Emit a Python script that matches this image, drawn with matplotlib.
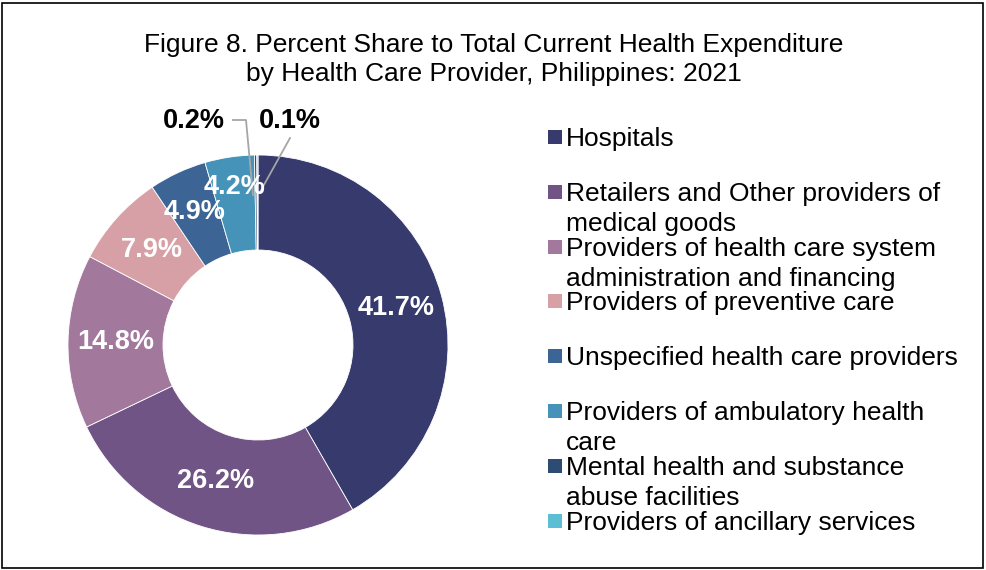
import numpy as np
import matplotlib
matplotlib.use("Agg")
import matplotlib.pyplot as plt
from matplotlib.patches import Rectangle

plt.rcParams['font.family'] = ['Liberation Sans', 'DejaVu Sans']

labels = ["Hospitals",
          "Retailers and Other providers of\nmedical goods",
          "Providers of health care system\nadministration and financing",
          "Providers of preventive care",
          "Unspecified health care providers",
          "Providers of ambulatory health\ncare",
          "Mental health and substance\nabuse facilities",
          "Providers of ancillary services"]
shares = [41.7, 26.2, 14.8, 7.9, 4.9, 4.2, 0.2, 0.1]
colors = ["#363a6c", "#6f5485", "#a2789d", "#d7a0a6",
          "#3c6494", "#4593b8", "#2e4b73", "#5bbed4"]

W, H = 986, 570
fig = plt.figure(figsize=(W / 100, H / 100), dpi=100)

# figure border
fig.patches.append(Rectangle((2 / W, 2 / H), 981 / W, 565 / H, transform=fig.transFigure,
                             fill=False, edgecolor="black", linewidth=1.2))

fig.text(494 / W, 1 - 45 / H, "Figure 8. Percent Share to Total Current Health Expenditure",
         ha="center", va="center", fontsize=19)
fig.text(494 / W, 1 - 74 / H, "by Health Care Provider, Philippines: 2021",
         ha="center", va="center", fontsize=19)

cx, cy, R = 258, 345, 190
ax = fig.add_axes([(cx - R) / W, (H - cy - R) / H, 2 * R / W, 2 * R / H])
wedges, _ = ax.pie(shares, colors=colors, startangle=90, counterclock=False, radius=1,
                   wedgeprops=dict(width=0.5, edgecolor="white", linewidth=0.6))
ax.set_xlim(-1, 1)
ax.set_ylim(-1, 1)
ax.set_aspect("equal")
ax.axis("off")

def px(x, y):
    return ((x - cx) / R, (cy - y) / R)

# label spots moved by hand (like Excel did) for the crowded slices
moved = {4: px(195, 212), 5: px(235, 187)}

for i, (w, v) in enumerate(zip(wedges, shares)):
    if v < 1:
        continue
    ang = np.deg2rad((w.theta1 + w.theta2) / 2)
    pos = moved.get(i, (0.75 * np.cos(ang), 0.75 * np.sin(ang)))
    ax.text(*pos, f"{v:.1f}%", ha="center", va="center",
            color="white", fontsize=19.5, fontweight="bold")

# small slices with leader lines
ax.text(*px(194, 121), f"{shares[6]:.1f}%", ha="center", va="center",
        fontsize=19.5, fontweight="bold", clip_on=False)
ax.text(*px(290, 121), f"{shares[7]:.1f}%", ha="center", va="center",
        fontsize=19.5, fontweight="bold", clip_on=False)
p1 = [px(233, 120), px(246, 120), px(253, 195)]
ax.plot([p[0] for p in p1], [p[1] for p in p1], color="#a6a6a6", lw=1.3, clip_on=False)
p2 = [px(290, 138), px(260, 192)]
ax.plot([p[0] for p in p2], [p[1] for p in p2], color="#a6a6a6", lw=1.3, clip_on=False)

# legend
y0, dy, lh = 137, 54.8, 30
for i, (lab, c) in enumerate(zip(labels, colors)):
    y = y0 + i * dy
    fig.patches.append(Rectangle((548 / W, 1 - (y + 7) / H), 14 / W, 14 / H,
                                 transform=fig.transFigure, facecolor=c, edgecolor="none"))
    for j, line in enumerate(lab.split("\n")):
        fig.text(566 / W, 1 - (y + 9 + j * lh) / H, line, ha="left", va="baseline",
                 fontsize=19)

fig.savefig("out.png", dpi=100)
